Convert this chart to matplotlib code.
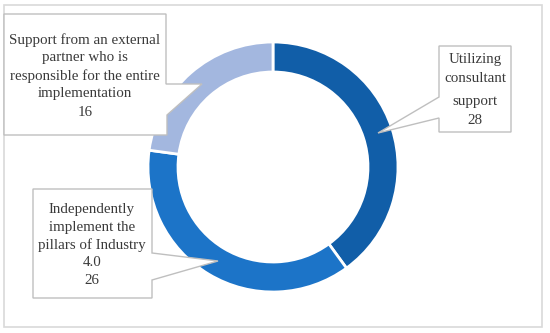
import matplotlib.pyplot as plt
from matplotlib.patches import Polygon, Rectangle

labels = ['Utilizing\nconsultant\n\nsupport',
          'Independently\nimplement the\npillars of Industry\n4.0',
          'Support from an external\npartner who is\nresponsible for the entire\nimplementation']
values = [28, 26, 16]
colors = ['#115EA8', '#1C74C8', '#A3B7DF']

H = 333  # figure height in px, used to flip y (picture coords -> axes coords)

fig = plt.figure(figsize=(5.5, 3.33), dpi=100)
ax = fig.add_axes([0, 0, 1, 1])

# donut
ax.pie(values, colors=colors, startangle=90, counterclock=False,
       center=(273, H - 167), radius=125, frame=True,
       wedgeprops=dict(width=30, edgecolor='white', linewidth=2))

ax.set_xlim(0, 550)
ax.set_ylim(0, H)
ax.set_aspect('auto')
ax.axis('off')

# outer frame
ax.add_patch(Rectangle((4, H - 327), 538, 322, fill=False, edgecolor='#D9D9D9', lw=1.2))

# callout boxes (picture coords, y down)
callouts = [
    [(439, 46), (511, 46), (511, 132), (439, 132), (439, 118), (378, 133), (439, 97)],
    [(33, 189), (152, 189), (152, 253), (218, 261), (152, 280), (152, 298), (33, 298)],
    [(4, 14), (166, 14), (166, 84), (202, 84), (167, 115), (167, 135), (4, 135)],
]
for pts in callouts:
    ax.add_patch(Polygon([(x, H - y) for x, y in pts], closed=True,
                         facecolor='white', edgecolor='#BFBFBF', lw=1.0, zorder=3))

# first text line position of each box, then line by line
text_start = [(475, 60), (92, 209), (85, 40)]
for lab, v, (x, y) in zip(labels, values, text_start):
    for line in (lab + f'\n{v}').split('\n'):
        if line == '':
            y += 6
            continue
        ax.text(x, H - y, line, ha='center', va='center', fontsize=10.8,
                family='Liberation Serif', color='#3A3A3A', zorder=4)
        y += 18

plt.savefig('out.png', dpi=100)
